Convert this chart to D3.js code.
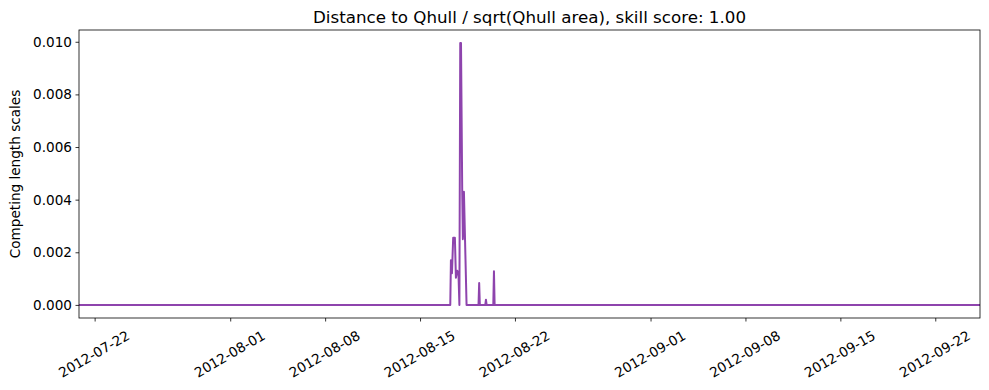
<!DOCTYPE html>
<html>
<head>
<meta charset="utf-8">
<script src="https://cdn.jsdelivr.net/npm/d3@7"></script>
<style>
  body { margin: 0; background: #fff; }
  text { font-family: "DejaVu Sans", sans-serif; fill: #000; }
</style>
</head>
<body>
<div id="chart"></div>
<script>
// Series: timestamps and values
var times = [
  "2012-07-20T20:20", "2012-08-17T05:30", "2012-08-17T06:40", "2012-08-17T08:30",
  "2012-08-17T10:40", "2012-08-17T13:40", "2012-08-17T15:30", "2012-08-17T17:50",
  "2012-08-17T20:00", "2012-08-17T21:40", "2012-08-17T23:10", "2012-08-18T00:30",
  "2012-08-18T02:40", "2012-08-18T03:50", "2012-08-18T05:40", "2012-08-18T10:20",
  "2012-08-19T07:30", "2012-08-19T08:40", "2012-08-19T09:50", "2012-08-19T19:30",
  "2012-08-19T20:40", "2012-08-19T21:50", "2012-08-20T09:40", "2012-08-20T10:50",
  "2012-08-20T12:00", "2012-09-25T07:10"
];
var values = [
  0, 0, 0.0017, 0.0012,
  0.00255, 0.00255, 0.00103, 0.0013,
  0.0012, 0, 0.00995, 0.00995,
  0.0043, 0.0025, 0.0043, 0,
  0, 0.00083, 0, 0,
  0.0002, 0, 0, 0.00128,
  0, 0
];
var xTicks = ["2012-07-22", "2012-08-01", "2012-08-08", "2012-08-15", "2012-08-22",
              "2012-09-01", "2012-09-08", "2012-09-15", "2012-09-22"];
var yTicks = [0, 0.002, 0.004, 0.006, 0.008, 0.010];

var titleText = "Distance to Qhull / sqrt(Qhull area), skill score: 1.00";
var yLabel = "Competing length scales";

var parseTime = d3.timeParse("%Y-%m-%dT%H:%M");
var parseDay = d3.timeParse("%Y-%m-%d");

var data = times.map(function (t, i) { return { date: parseTime(t), value: values[i] }; });

var W = 989, H = 390;
var margin = { top: 30, right: 9, bottom: 72, left: 79 };
var width = W - margin.left - margin.right,
    height = H - margin.top - margin.bottom;

// x runs edge to edge, y keeps a 5% pad like matplotlib
var vMax = d3.max(values);
var x = d3.scaleTime()
    .domain(d3.extent(data, function (d) { return d.date; }))
    .range([0, width]);
var y = d3.scaleLinear()
    .domain([-vMax * 0.05, vMax * 1.05])
    .range([height, 0]);

var svg = d3.select("#chart").append("svg")
    .attr("width", W)
    .attr("height", H);

var g = svg.append("g")
    .attr("transform", "translate(" + margin.left + "," + margin.top + ")");

// line
var line = d3.line()
    .x(function (d) { return x(d.date); })
    .y(function (d) { return y(d.value); });

g.append("path")
    .datum(data)
    .attr("fill", "none")
    .attr("stroke", "#8e44ad")
    .attr("stroke-width", 2)
    .attr("stroke-linejoin", "round")
    .attr("d", line);

// x axis
var xAxis = d3.axisBottom(x)
    .tickValues(xTicks.map(parseDay))
    .tickFormat(d3.timeFormat("%Y-%m-%d"))
    .tickSize(3.5)
    .tickPadding(3.5);

var gx = g.append("g")
    .attr("transform", "translate(0," + height + ")")
    .call(xAxis);
gx.select(".domain").remove();
gx.selectAll(".tick line").attr("stroke", "#000").attr("stroke-width", 0.8);
gx.selectAll(".tick text")
    .attr("font-size", 13.6)
    .attr("y", 0)
    .attr("dy", "0.35em")
    .attr("text-anchor", "middle")
    .attr("transform", "translate(-1,36) rotate(-30)");

// y axis
var yAxis = d3.axisLeft(y)
    .tickValues(yTicks)
    .tickFormat(d3.format(".3f"))
    .tickSize(3.5)
    .tickPadding(3.5);

var gy = g.append("g").call(yAxis);
gy.select(".domain").remove();
gy.selectAll(".tick line").attr("stroke", "#000").attr("stroke-width", 0.8);
gy.selectAll(".tick text").attr("font-size", 13.6);

// frame
g.append("rect")
    .attr("width", width)
    .attr("height", height)
    .attr("fill", "none")
    .attr("stroke", "#000")
    .attr("stroke-width", 0.8);

// title
svg.append("text")
    .attr("x", margin.left + width / 2)
    .attr("y", 23)
    .attr("text-anchor", "middle")
    .attr("font-size", 16.7)
    .text(titleText);

// y label
svg.append("text")
    .attr("transform", "translate(20," + (margin.top + height / 2) + ") rotate(-90)")
    .attr("text-anchor", "middle")
    .attr("font-size", 13.6)
    .text(yLabel);
</script>
</body>
</html>
